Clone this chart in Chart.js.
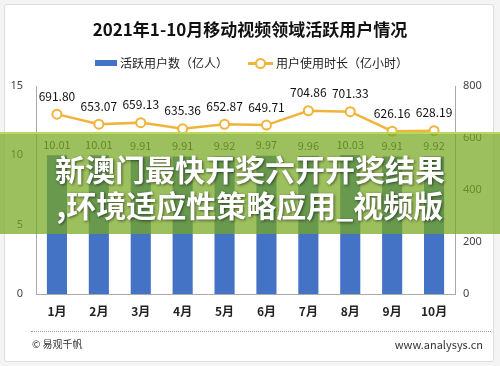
<!DOCTYPE html>
<html>
<head>
<meta charset="utf-8">
<script src="https://cdn.jsdelivr.net/npm/chart.js@4/dist/chart.umd.min.js"></script>
<style>
  html, body { margin: 0; padding: 0; background: #f4f4f4; }
  body { width: 500px; height: 366px; position: relative; overflow: hidden;
         font-family: "Noto Sans CJK SC", "Noto Sans", sans-serif; }
  .card { position: absolute; left: 4px; top: 4px; width: 488px; height: 356px;
          background: #fff; border: 1px solid #dedede; border-radius: 3px; }
  #chart { position: absolute; left: 0; top: 0; }
  .title { position: absolute; left: 0; width: 500px; top: 16px; text-align: center;
           font-size: 17px; font-weight: bold; color: #111; line-height: 26px; }
  .legend { position: absolute; top: 54px; left: 0; width: 500px; font-size: 12px; color: #222; line-height: 18px; }
  .legend span { position: absolute; white-space: nowrap; }
  .lg-bar { left: 95px; top: 6px; width: 22px; height: 6px; background: #4472c4; }
  .lg-line { left: 248px; top: 8px; width: 25px; height: 3px; background: #f0b43c; }
  .lg-dot { left: 255px; top: 4px; width: 7px; height: 7px; border: 2px solid #f0b43c; border-radius: 50%; background: #fff; }
  .footer-line { position: absolute; left: 31px; top: 331px; width: 460px; border-top: 1px dotted #999; }
  .foot-l { position: absolute; left: 32px; top: 336px; font-size: 10px; color: #333; }
  .foot-r { position: absolute; right: 17px; top: 336px; font-size: 11px; color: #333; }
  .band { position: absolute; left: 0; top: 132px; width: 500px; height: 100px;
          background: rgba(118, 168, 30, 0.72); border-top: 2px solid rgba(190, 220, 90, 0.9); }
  .band div { position: absolute; left: 0; width: 500px; text-align: center; color: #fff;
              font-size: 30px; font-weight: bold; line-height: 36px;
              text-shadow: 1px 1px 3px rgba(0,0,0,0.55); }
</style>
</head>
<body>
<div class="card"></div>
<canvas id="chart" width="500" height="366"></canvas>
<div class="title">2021年1-10月移动视频领域活跃用户情况</div>
<div class="legend">
  <span class="lg-bar"></span><span style="left:120px;top:0">活跃用户数（亿人）</span>
  <span class="lg-line"></span><span class="lg-dot"></span><span style="left:276px;top:0">用户使用时长（亿小时）</span>
</div>
<div class="footer-line"></div>
<div class="foot-l">© 易观千帆</div>
<div class="foot-r">www.analysys.cn</div>
<div class="band">
  <div style="top:16px">新澳门最快开奖六开开奖结果</div>
  <div style="top:52px">,环境适应性策略应用_视频版</div>
</div>
<script>
// chart data
var months = ['1月', '2月', '3月', '4月', '5月', '6月', '7月', '8月', '9月', '10月'];
var activeUsers = [10.01, 10.01, 9.91, 9.91, 9.92, 9.97, 9.96, 10.03, 9.91, 9.92];
var usageHours = [691.80, 653.07, 659.13, 635.36, 652.87, 649.71, 704.86, 701.33, 626.16, 628.19];
var leftTicks = [0, 5, 10, 15];
var rightTicks = [0, 200, 400, 600, 800];

var barColor = '#4472c4';
var lineColor = '#f0b43c';

// draw value labels above bars and points
var valueLabels = {
  id: 'valueLabels',
  afterDatasetsDraw: function(chart) {
    var ctx = chart.ctx;
    ctx.save();
    ctx.textAlign = 'center';
    chart.data.datasets.forEach(function(ds, i) {
      var meta = chart.getDatasetMeta(i);
      meta.data.forEach(function(el, j) {
        var text = ds.data[j].toFixed(2);
        if (ds.type === 'bar') {
          ctx.font = '11px "Noto Sans CJK SC", sans-serif';
          ctx.fillStyle = '#333';
          ctx.textBaseline = 'bottom';
          ctx.fillText(text, el.x, el.y - 5);
        } else {
          ctx.font = '12px "Noto Sans CJK SC", sans-serif';
          ctx.fillStyle = '#111';
          ctx.textBaseline = 'middle';
          ctx.fillText(text, el.x, el.y - 18);
        }
      });
    });
    ctx.restore();
  }
};

new Chart(document.getElementById('chart'), {
  data: {
    labels: months,
    datasets: [
      {
        type: 'line',
        data: usageHours,
        yAxisID: 'y1',
        borderColor: lineColor,
        borderWidth: 2.5,
        pointRadius: 4.5,
        pointBorderWidth: 2,
        pointBackgroundColor: '#fff',
        pointBorderColor: lineColor,
        tension: 0,
        order: 0
      },
      {
        type: 'bar',
        data: activeUsers,
        yAxisID: 'y',
        backgroundColor: barColor,
        barPercentage: 0.48,
        categoryPercentage: 1,
        order: 1
      }
    ]
  },
  options: {
    responsive: false,
    animation: false,
    layout: { padding: { top: 86, bottom: 0, left: 0, right: 0 } },
    plugins: { legend: { display: false }, tooltip: { enabled: false } },
    scales: {
      x: {
        grid: { display: false, drawTicks: false },
        border: { display: true, color: '#aaa' },
        ticks: { color: '#222', padding: 10, font: { size: 12, weight: 'bold', family: '"Noto Sans CJK SC", sans-serif' } },
        afterFit: function(s) { s.height = 72; }
      },
      y: {
        position: 'left',
        min: 0, max: 15,
        afterBuildTicks: function(s) { s.ticks = leftTicks.map(function(v) { return { value: v }; }); },
        grid: { display: false, drawTicks: false },
        border: { display: true, color: '#aaa' },
        ticks: { color: '#444', padding: 13, font: { size: 11, family: '"Noto Sans", sans-serif' } },
        afterFit: function(s) { s.width = 36; }
      },
      y1: {
        position: 'right',
        min: 0, max: 800,
        afterBuildTicks: function(s) { s.ticks = rightTicks.map(function(v) { return { value: v }; }); },
        grid: { display: false, drawTicks: false },
        border: { display: true, color: '#aaa' },
        ticks: { color: '#444', padding: 8, font: { size: 11, family: '"Noto Sans", sans-serif' } },
        afterFit: function(s) { s.width = 45; }
      }
    }
  },
  plugins: [valueLabels]
});
</script>
</body>
</html>
